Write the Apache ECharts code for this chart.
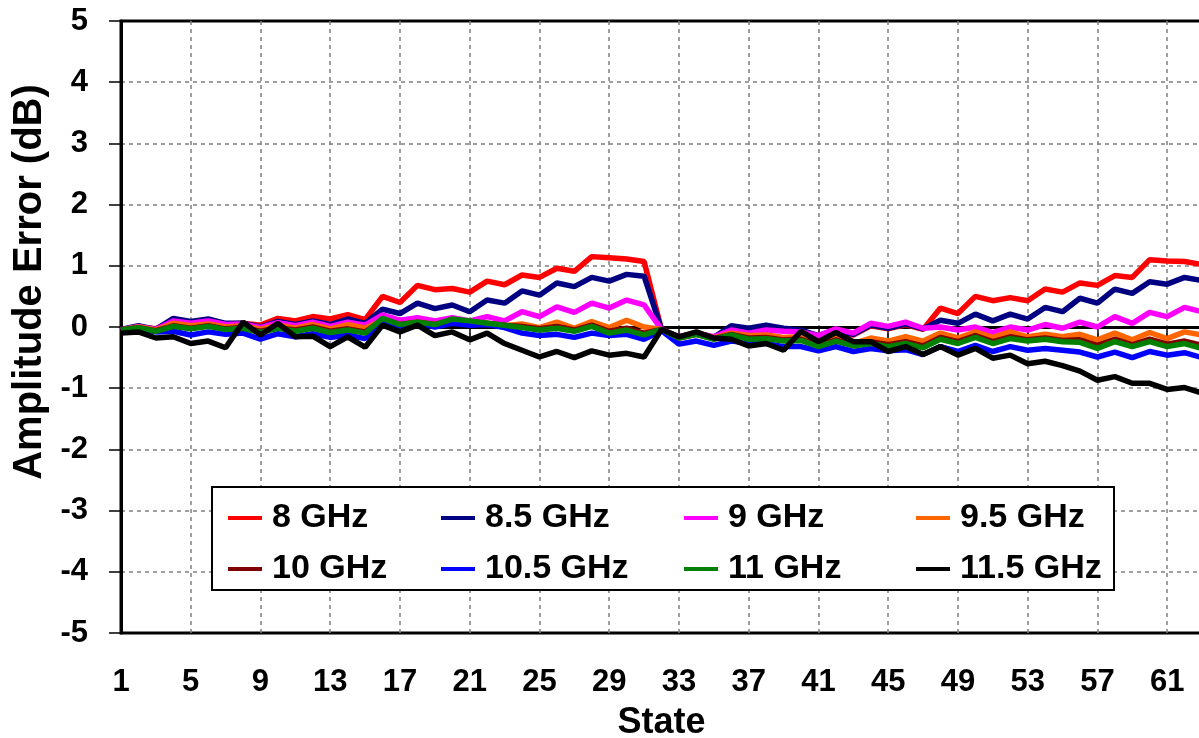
<!DOCTYPE html>
<html>
<head>
<meta charset="utf-8">
<script src="https://cdn.jsdelivr.net/npm/echarts@6/dist/echarts.min.js"></script>
<style>
  html, body { margin: 0; padding: 0; background: #fff; }
  #main { width: 1199px; height: 738px; }
</style>
</head>
<body>
<div id="main"></div>
<script>
// states 1..63 (state 64 falls outside the visible picture)
const states = [];
for (let i = 1; i <= 63; i++) states.push(String(i));

const yTicks = [-5, -4, -3, -2, -1, 0, 1, 2, 3, 4, 5];

const names = ['8 GHz', '8.5 GHz', '9 GHz', '9.5 GHz', '10 GHz', '10.5 GHz', '11 GHz', '11.5 GHz'];
const colors = ['#ff0000', '#000080', '#ff00ff', '#ff6600', '#800000', '#0000ff', '#008000', '#000000'];

const ghz8 = [-0.05, 0.00, -0.03, 0.10, 0.06, 0.10, 0.05, 0.06, 0.03, 0.14, 0.10, 0.17, 0.13, 0.20, 0.12, 0.50,
  0.40, 0.68, 0.61, 0.63, 0.57, 0.75, 0.69, 0.85, 0.81, 0.96, 0.91, 1.15, 1.13, 1.11, 1.07, -0.04,
  -0.17, -0.11, -0.18, -0.01, -0.05, 0.00, -0.04, -0.07, -0.16, -0.06, -0.13, 0.02, -0.03, 0.04, -0.04, 0.31,
  0.22, 0.50, 0.43, 0.48, 0.43, 0.62, 0.57, 0.72, 0.68, 0.84, 0.81, 1.10, 1.08, 1.07, 1.02];
const ghz85 = [-0.04, 0.02, -0.04, 0.14, 0.09, 0.13, 0.06, 0.06, 0.00, 0.09, 0.04, 0.10, 0.04, 0.13, 0.06, 0.29,
  0.22, 0.39, 0.30, 0.36, 0.25, 0.44, 0.39, 0.59, 0.52, 0.72, 0.66, 0.81, 0.75, 0.86, 0.83, -0.04,
  -0.16, -0.10, -0.17, 0.02, -0.02, 0.03, -0.02, -0.05, -0.14, -0.05, -0.12, 0.03, -0.02, 0.05, -0.03, 0.11,
  0.06, 0.21, 0.10, 0.21, 0.13, 0.32, 0.25, 0.47, 0.39, 0.62, 0.55, 0.74, 0.70, 0.81, 0.76];
const ghz9 = [-0.05, 0.01, -0.04, 0.10, 0.06, 0.10, 0.04, 0.05, -0.01, 0.07, 0.02, 0.08, 0.01, 0.08, 0.03, 0.20,
  0.11, 0.15, 0.10, 0.15, 0.10, 0.17, 0.10, 0.25, 0.17, 0.33, 0.24, 0.39, 0.31, 0.44, 0.36, -0.04,
  -0.16, -0.10, -0.16, -0.05, -0.10, -0.05, -0.07, -0.08, -0.14, -0.03, -0.10, 0.06, 0.01, 0.08, -0.02, 0.00,
  -0.05, 0.00, -0.09, 0.00, -0.05, 0.04, -0.02, 0.08, 0.00, 0.17, 0.06, 0.24, 0.17, 0.32, 0.25];
const ghz95 = [-0.05, 0.00, -0.05, 0.06, 0.02, 0.05, 0.00, 0.02, -0.04, 0.03, -0.02, 0.04, -0.03, 0.04, -0.02, 0.11,
  0.04, 0.08, 0.04, 0.08, 0.04, 0.06, 0.02, 0.05, -0.01, 0.08, -0.02, 0.09, -0.01, 0.11, 0.00, -0.04,
  -0.17, -0.11, -0.18, -0.10, -0.14, -0.13, -0.17, -0.16, -0.27, -0.16, -0.27, -0.18, -0.23, -0.16, -0.23, -0.10,
  -0.18, -0.08, -0.17, -0.08, -0.16, -0.12, -0.16, -0.12, -0.21, -0.10, -0.21, -0.09, -0.19, -0.08, -0.13];
const ghz10 = [-0.05, -0.01, -0.06, 0.02, -0.02, 0.02, -0.03, -0.01, -0.07, -0.01, -0.05, 0.00, -0.07, -0.03, -0.08, 0.12,
  0.04, 0.08, 0.04, 0.11, 0.08, 0.06, 0.03, 0.01, -0.03, 0.01, -0.05, 0.03, -0.07, -0.02, -0.10, -0.04,
  -0.18, -0.12, -0.19, -0.12, -0.18, -0.17, -0.21, -0.20, -0.30, -0.21, -0.30, -0.24, -0.29, -0.24, -0.31, -0.17,
  -0.24, -0.14, -0.24, -0.16, -0.21, -0.18, -0.22, -0.21, -0.30, -0.20, -0.29, -0.20, -0.28, -0.23, -0.30];
const ghz105 = [-0.06, -0.03, -0.08, -0.07, -0.13, -0.08, -0.12, -0.10, -0.20, -0.11, -0.16, -0.11, -0.17, -0.13, -0.19, 0.10,
  0.00, 0.07, 0.00, 0.06, 0.03, 0.04, -0.01, -0.10, -0.14, -0.12, -0.17, -0.10, -0.14, -0.12, -0.20, -0.06,
  -0.28, -0.23, -0.30, -0.23, -0.26, -0.27, -0.32, -0.32, -0.39, -0.32, -0.40, -0.35, -0.39, -0.37, -0.45, -0.32,
  -0.40, -0.30, -0.40, -0.32, -0.38, -0.35, -0.38, -0.41, -0.49, -0.41, -0.50, -0.40, -0.46, -0.42, -0.50];
const ghz11 = [-0.05, -0.01, -0.07, 0.01, -0.03, 0.01, -0.04, -0.02, -0.09, -0.02, -0.07, -0.02, -0.09, -0.05, -0.10, 0.14,
  0.04, 0.08, 0.04, 0.13, 0.10, 0.06, 0.03, -0.01, -0.05, -0.02, -0.07, 0.01, -0.10, -0.05, -0.13, -0.04,
  -0.18, -0.12, -0.20, -0.13, -0.20, -0.19, -0.23, -0.22, -0.32, -0.23, -0.31, -0.27, -0.32, -0.27, -0.34, -0.20,
  -0.27, -0.17, -0.27, -0.19, -0.23, -0.20, -0.24, -0.25, -0.35, -0.24, -0.32, -0.24, -0.32, -0.27, -0.35];
const ghz115 = [-0.10, -0.08, -0.18, -0.16, -0.27, -0.23, -0.34, 0.08, -0.13, 0.06, -0.16, -0.15, -0.32, -0.16, -0.33, 0.03,
  -0.08, 0.03, -0.14, -0.08, -0.21, -0.10, -0.27, -0.38, -0.49, -0.40, -0.50, -0.39, -0.46, -0.43, -0.49, -0.04,
  -0.16, -0.08, -0.18, -0.20, -0.31, -0.27, -0.38, -0.07, -0.24, -0.09, -0.24, -0.24, -0.40, -0.32, -0.45, -0.32,
  -0.46, -0.35, -0.51, -0.46, -0.60, -0.56, -0.63, -0.72, -0.87, -0.81, -0.92, -0.92, -1.02, -0.99, -1.08];

const seriesData = [ghz8, ghz85, ghz9, ghz95, ghz10, ghz105, ghz11, ghz115];

const font = 'Liberation Sans, Arial, sans-serif';

const chart = echarts.init(document.getElementById('main'), null, { renderer: 'canvas' });

// legend laid out in 4 columns x 2 rows like the original
const legendCols = [[0, 4], [1, 5], [2, 6], [3, 7]];
const legendLeft = [228, 441, 684, 916];

chart.setOption({
  animation: false,
  backgroundColor: '#fff',
  grid: {
    left: 121, top: 21, width: 1081, height: 612,
    outerBoundsMode: 'none',
    show: true, borderColor: '#000', borderWidth: 3, backgroundColor: 'transparent'
  },
  xAxis: {
    type: 'category',
    data: states,
    boundaryGap: false,
    name: 'State',
    nameLocation: 'middle',
    nameGap: 72,
    nameTextStyle: { fontFamily: font, fontWeight: 'bold', fontSize: 36, color: '#000' },
    axisLine: { lineStyle: { color: '#000', width: 3 } },
    axisTick: { interval: 3, length: 12, lineStyle: { color: '#000', width: 1.5 } },
    axisLabel: { interval: 3, margin: 34, fontFamily: font, fontWeight: 'bold', fontSize: 31, color: '#000' },
    splitLine: { show: true, interval: 3, showMinLine: false, lineStyle: { color: '#808080', width: 1.5, type: [4, 4] } }
  },
  yAxis: {
    type: 'value',
    min: yTicks[0], max: yTicks[yTicks.length - 1], interval: 1,
    name: 'Amplitude Error (dB)',
    nameLocation: 'middle',
    nameGap: 70,
    nameTextStyle: { fontFamily: font, fontWeight: 'bold', fontSize: 40, color: '#000', padding: [0, 0, 0, 90] },
    axisLine: { show: true, lineStyle: { color: '#000', width: 3 } },
    axisTick: { show: true, length: 12, lineStyle: { color: '#000', width: 1.5 } },
    axisLabel: { margin: 33, fontFamily: font, fontWeight: 'bold', fontSize: 31, color: '#000' },
    splitLine: { show: true, showMinLine: false, showMaxLine: false, lineStyle: { color: '#808080', width: 1.5, type: [4, 4] } }
  },
  legend: legendCols.map((col, i) => ({
    orient: 'vertical',
    left: legendLeft[i],
    top: 501,
    padding: 0,
    z: 6,
    data: col.map(k => ({ name: names[k], icon: 'rect' })),
    itemWidth: 34,
    itemHeight: 4,
    itemGap: 17,
    selectedMode: false,
    textStyle: { fontFamily: font, fontWeight: 'bold', fontSize: 34, color: '#000', padding: [0, 0, 0, 5] }
  })),
  graphic: [{
    type: 'rect',
    z: 5,
    shape: { x: 212, y: 487, width: 902, height: 103 },
    style: { fill: '#fff', stroke: '#000', lineWidth: 2 }
  }],
  series: seriesData.map((d, i) => ({
    name: names[i],
    type: 'line',
    data: d,
    showSymbol: false,
    color: colors[i],
    lineStyle: { width: 5.5, color: colors[i] },
    z: 2 + i * 0.01
  }))
});
</script>
</body>
</html>
